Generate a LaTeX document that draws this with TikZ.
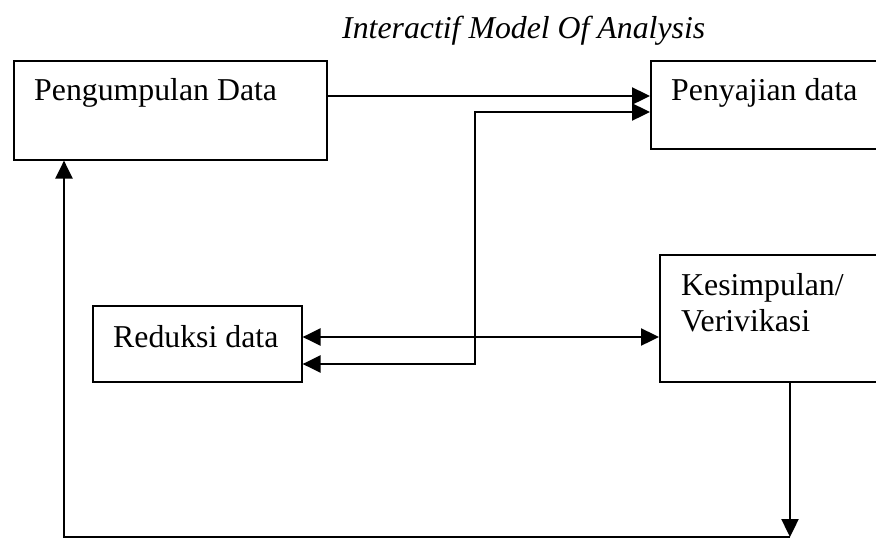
\documentclass[tikz,border=0pt]{standalone}
\usepackage{fontspec}
\setmainfont{Liberation Serif}
\usetikzlibrary{arrows.meta}
\begin{document}
\begin{tikzpicture}[x=1pt,y=-1pt,
  box/.style={draw,line width=1.6pt,rectangle,inner sep=0pt,anchor=north west},
  lbl/.style={anchor=base west,inner sep=0pt,font=\fontsize{31.8}{35}\selectfont},
  conn/.style={line width=2.4pt},
  tip/.style={-{Triangle[length=18pt,width=17pt]}},
  tips/.style={{Triangle[length=18pt,width=17pt]}-{Triangle[length=18pt,width=17pt]}}]
\useasboundingbox (0,0) rectangle (876,539);
% title
\node[lbl,font=\fontsize{31.8}{35}\selectfont\itshape] (title) at (342,38) {Interactif Model Of Analysis};
% boxes
\node[box,minimum width=313pt,minimum height=99pt] (pg) at (13,60) {};
\node[box,minimum width=232pt,minimum height=88pt] (pj) at (650,60) {};
\node[box,minimum width=209pt,minimum height=76pt] (rd) at (92,305) {};
\node[box,minimum width=223pt,minimum height=127pt] (ks) at (659,254) {};
% texts
\node[lbl] (pgt) at (34,100) {Pengumpulan Data};
\node[lbl] (pjt) at (671,100) {Penyajian data};
\node[lbl] (rdt) at (113,347) {Reduksi data};
\node[lbl] (kst1) at (681,295) {Kesimpulan/};
\node[lbl] (kst2) at (681,331) {Verivikasi};
% helper coordinates
\coordinate (y96) at (0,96);
\coordinate (y112) at (0,112);
\coordinate (y337) at (0,337);
\coordinate (y364) at (0,364);
\coordinate (bend) at (475,364);
\coordinate (x790) at (790,0);
\coordinate (x64) at (64,0);
\coordinate (bot) at (790,537);
\coordinate (botl) at (64,537);
% connectors
\draw[conn,tip] (pg.east |- y96) -- (pj.west |- y96);
\draw[conn,tips] (rd.east |- y364) -- (bend) |- (pj.west |- y112);
\draw[conn,tips] (rd.east |- y337) -- (ks.west |- y337);
\draw[conn,tip] (ks.south -| x790) -- (bot);
\draw[conn,tip] (bot) -- (botl) -- (pg.south -| x64);
\end{tikzpicture}
\end{document}
